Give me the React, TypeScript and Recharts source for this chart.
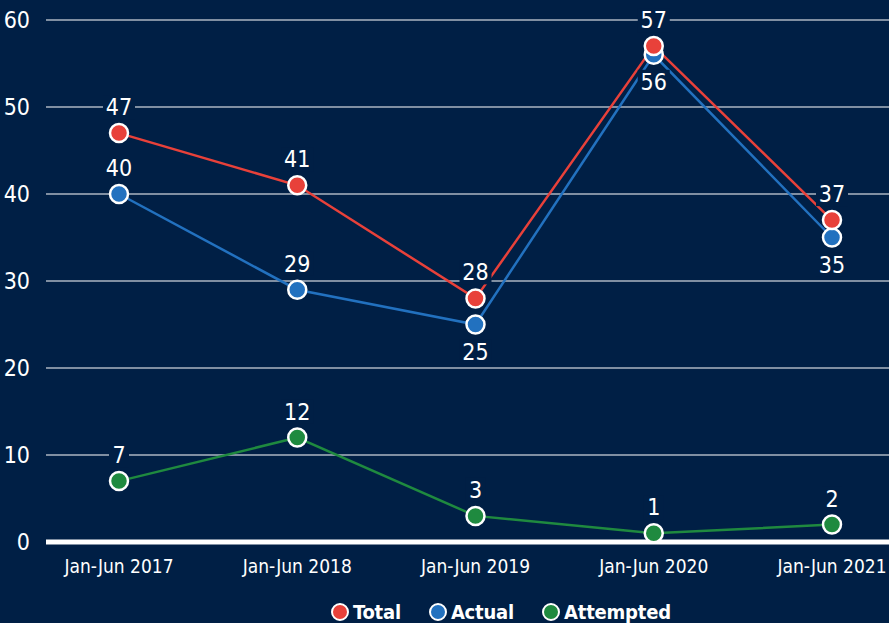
import { LineChart, Line, XAxis, YAxis, CartesianGrid } from "recharts";

const periods = ["Jan-Jun 2017", "Jan-Jun 2018", "Jan-Jun 2019", "Jan-Jun 2020", "Jan-Jun 2021"];
const total = [47, 41, 28, 57, 37];
const actual = [40, 29, 25, 56, 35];
const attempted = [7, 12, 3, 1, 2];
const yTicks = [0, 10, 20, 30, 40, 50, 60];

const data = periods.map((p, i) => ({
  period: p,
  total: total[i],
  actual: actual[i],
  attempted: attempted[i],
}));

const BG = "#001f45";
const FONT = "'DejaVu Sans Condensed', 'Roboto', sans-serif";
const RED = "#e8413a";
const BLUE = "#2271bf";
const GREEN = "#1f8a3f";

// which labels sit below the marker instead of above
const actualBelow = [false, false, true, true, true];

const makeLabel = (below: boolean[] | null) => (props: any) => {
  const { x, y, value, index } = props;
  const down = below ? below[index] : false;
  const cy = down ? y + 27 : y - 26;
  const txt = String(value);
  const w = txt.length * 12 + 8;
  return (
    <g key={`lbl-${index}`}>
      <rect x={x - w / 2} y={cy - 12} width={w} height={24} fill={BG} />
      <text x={x} y={cy} dy={8} textAnchor="middle" fill="#fff" fontSize={23} fontFamily={FONT}>
        {txt}
      </text>
    </g>
  );
};

const dot = (color: string) => ({ r: 9, fill: color, stroke: "#fff", strokeWidth: 2.5 });

const legendItems = [
  { name: "Total", color: RED },
  { name: "Actual", color: BLUE },
  { name: "Attempted", color: GREEN },
];

export default function App() {
  return (
    <div style={{ position: "absolute", left: 0, top: 0, width: 889, height: 623, background: BG, overflow: "hidden" }}>
      <LineChart width={889} height={623} data={data} margin={{ top: 20, right: 0, left: 0, bottom: 0 }}>
        <CartesianGrid vertical={false} stroke="#ffffff" strokeWidth={1.2} />
        <XAxis
          dataKey="period"
          height={81}
          padding={{ left: 73, right: 57 }}
          axisLine={{ stroke: "#fff", strokeWidth: 5 }}
          tickLine={false}
          tick={{ fill: "#fff", fontSize: 19, fontFamily: FONT }}
          tickMargin={12}
          interval={0}
        />
        <YAxis
          width={46}
          domain={[0, 60]}
          ticks={yTicks}
          axisLine={false}
          tickLine={false}
          tickMargin={10}
          tick={{ fill: "#fff", fontSize: 23, fontFamily: FONT }}
        />
        <Line dataKey="attempted" stroke={GREEN} strokeWidth={2.5} dot={dot(GREEN)} activeDot={false} isAnimationActive={false} label={makeLabel(null)} />
        <Line dataKey="actual" stroke={BLUE} strokeWidth={2.5} dot={dot(BLUE)} activeDot={false} isAnimationActive={false} label={makeLabel(actualBelow)} />
        <Line dataKey="total" stroke={RED} strokeWidth={2.5} dot={dot(RED)} activeDot={false} isAnimationActive={false} label={makeLabel(null)} />
      </LineChart>
      <div
        style={{
          position: "absolute",
          top: 600,
          left: 331,
          display: "flex",
          alignItems: "center",
          fontFamily: FONT,
          fontWeight: 700,
          fontSize: 20,
          letterSpacing: -0.2,
          color: "#fff",
        }}
      >
        {legendItems.map((it) => (
          <div key={it.name} style={{ display: "flex", alignItems: "center", marginRight: 28 }}>
            <span
              style={{
                display: "inline-block",
                width: 14,
                height: 14,
                borderRadius: "50%",
                background: it.color,
                border: "2px solid #fff",
                marginRight: 4,
              }}
            />
            {it.name}
          </div>
        ))}
      </div>
    </div>
  );
}
